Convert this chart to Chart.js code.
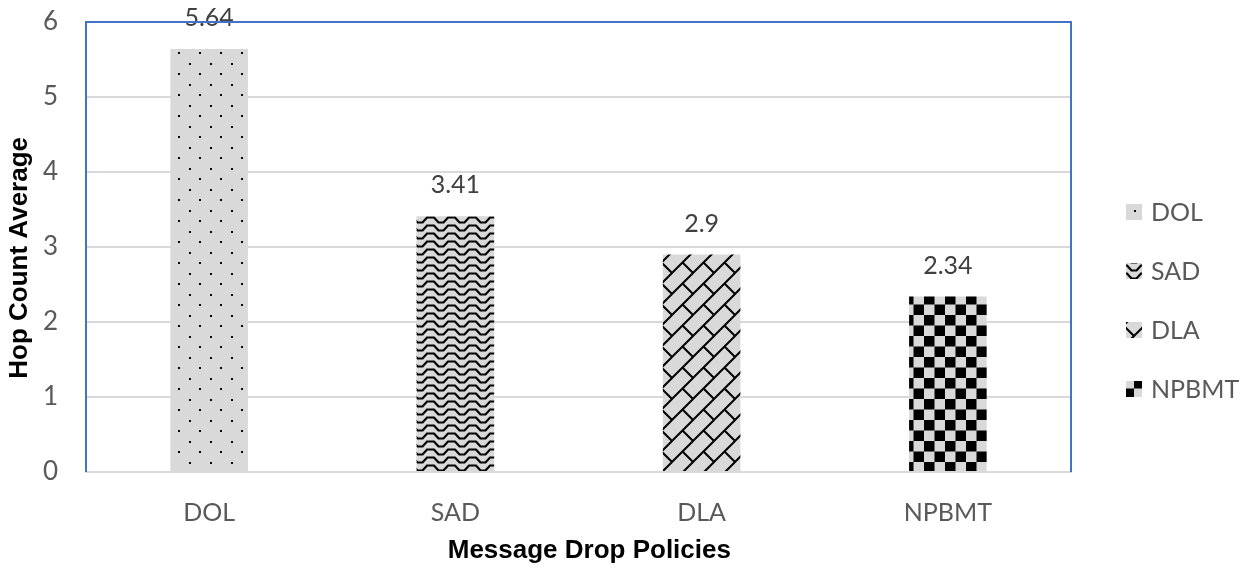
<!DOCTYPE html>
<html>
<head>
<meta charset="utf-8">
<script src="https://cdn.jsdelivr.net/npm/chart.js@4.4.1/dist/chart.umd.min.js"></script>
<style>
body { margin: 0; background: #fff; }
#wrap { width: 1250px; height: 572px; position: relative; }
</style>
</head>
<body>
<div id="wrap"><canvas id="chart"></canvas></div>
<script>
const categories = ['DOL', 'SAD', 'DLA', 'NPBMT']
const hopCounts = [5.64, 3.41, 2.9, 2.34]
const yTicks = [0, 1, 2, 3, 4, 5, 6]

const GRAY = '#d9d9d9'
const TEXT = '#595959'

function makePattern(w, h, draw) {
    const c = document.createElement('canvas')
    c.width = w
    c.height = h
    const g = c.getContext('2d')
    g.fillStyle = GRAY
    g.fillRect(0, 0, w, h)
    g.fillStyle = '#000'
    g.strokeStyle = '#000'
    draw(g)
    return g.createPattern(c, 'repeat')
}

// dotted
const dots = makePattern(21, 21, g => {
    g.fillRect(0, 0, 2, 2)
    g.fillRect(10, 10, 2, 2)
})
// wave
const wave = makePattern(21, 8, g => {
    g.lineWidth = 2.2
    g.beginPath()
    g.moveTo(-1, 6.5)
    g.lineTo(2.5, 6.5)
    g.lineTo(7, 1.5)
    g.lineTo(14, 1.5)
    g.lineTo(18.5, 6.5)
    g.lineTo(22, 6.5)
    g.stroke()
})
// diagonal brick
const brick = makePattern(21, 21, g => {
    g.lineWidth = 2
    g.beginPath()
    ;[0, 21, 42].forEach(s => {
        g.moveTo(s + 1, -1)
        g.lineTo(-1, s + 1)
    })
    g.moveTo(10.5, 10.5)
    g.lineTo(22, 22)
    g.moveTo(-1, -1)
    g.lineTo(0.5, 0.5)
    g.stroke()
})
// large checker
const checker = makePattern(21, 21, g => {
    g.fillRect(0, 0, 10.5, 10.5)
    g.fillRect(10.5, 10.5, 10.5, 10.5)
})
const fills = [dots, wave, brick, checker]

const valueLabels = {
    id: 'valueLabels',
    afterDatasetsDraw(chart) {
        const ctx = chart.ctx
        const meta = chart.getDatasetMeta(0)
        ctx.save()
        ctx.font = '25px Lato'
        ctx.fillStyle = '#404040'
        ctx.textAlign = 'center'
        ctx.textBaseline = 'alphabetic'
        meta.data.forEach((bar, i) => {
            ctx.fillText(String(hopCounts[i]), bar.x, bar.y - 23)
        })
        ctx.restore()
    }
}

const frame = {
    id: 'frame',
    afterDraw(chart) {
        const a = chart.chartArea
        const ctx = chart.ctx
        ctx.save()
        ctx.strokeStyle = '#4472c4'
        ctx.lineWidth = 2
        ctx.beginPath()
        ctx.moveTo(a.left, a.bottom)
        ctx.lineTo(a.left, a.top)
        ctx.lineTo(a.right, a.top)
        ctx.lineTo(a.right, a.bottom)
        ctx.stroke()
        ctx.restore()
    }
}

const sideLegend = {
    id: 'sideLegend',
    afterDraw(chart) {
        const ctx = chart.ctx
        const rows = [212, 271, 330, 389]
        ctx.save()
        ctx.font = '25px Lato'
        ctx.textBaseline = 'middle'
        categories.forEach((name, i) => {
            ctx.fillStyle = fills[i]
            ctx.fillRect(1126, rows[i] - 8, 16, 16)
            ctx.fillStyle = TEXT
            ctx.fillText(name, 1151, rows[i] + 1)
        })
        ctx.restore()
    }
}

new Chart(document.getElementById('chart'), {
    type: 'bar',
    data: {
        labels: categories,
        datasets: [{
            data: hopCounts,
            backgroundColor: fills,
            borderWidth: 0,
            barPercentage: 0.315,
            categoryPercentage: 1
        }]
    },
    options: {
        responsive: true,
        maintainAspectRatio: false,
        animation: false,
        layout: { padding: { top: 22, right: 179, left: 0, bottom: 0 } },
        plugins: {
            legend: { display: false },
            tooltip: { enabled: false }
        },
        scales: {
            x: {
                grid: { display: false, drawTicks: false },
                border: { display: true, color: GRAY, width: 2 },
                ticks: { color: TEXT, font: { family: 'Lato', size: 25 }, padding: 26 },
                title: {
                    display: true,
                    // leading spaces nudge it right like the original
                    text: '   Message Drop Policies',
                    color: '#000',
                    font: { family: 'Liberation Sans', size: 26, weight: 'bold' },
                    padding: { top: 6, bottom: 6 }
                },
                afterFit(s) {
                    s.height = 100
                    s.paddingTop = 0
                }
            },
            y: {
                min: yTicks[0],
                max: yTicks[yTicks.length - 1],
                afterBuildTicks(s) { s.ticks = yTicks.map(v => ({ value: v })) },
                grid: { color: GRAY, lineWidth: 2, drawTicks: false },
                border: { display: false },
                ticks: { color: TEXT, font: { family: 'Lato', size: 26 }, padding: 28 },
                title: {
                    display: true,
                    text: 'Hop Count Average   ',
                    color: '#000',
                    font: { family: 'Liberation Sans', size: 26, weight: 'bold' },
                    padding: { top: 4, bottom: 0 }
                },
                afterFit(s) {
                    s.width = 86
                    s.paddingTop = 0
                    s.paddingBottom = 0
                }
            }
        }
    },
    plugins: [valueLabels, frame, sideLegend]
})
</script>
</body>
</html>
